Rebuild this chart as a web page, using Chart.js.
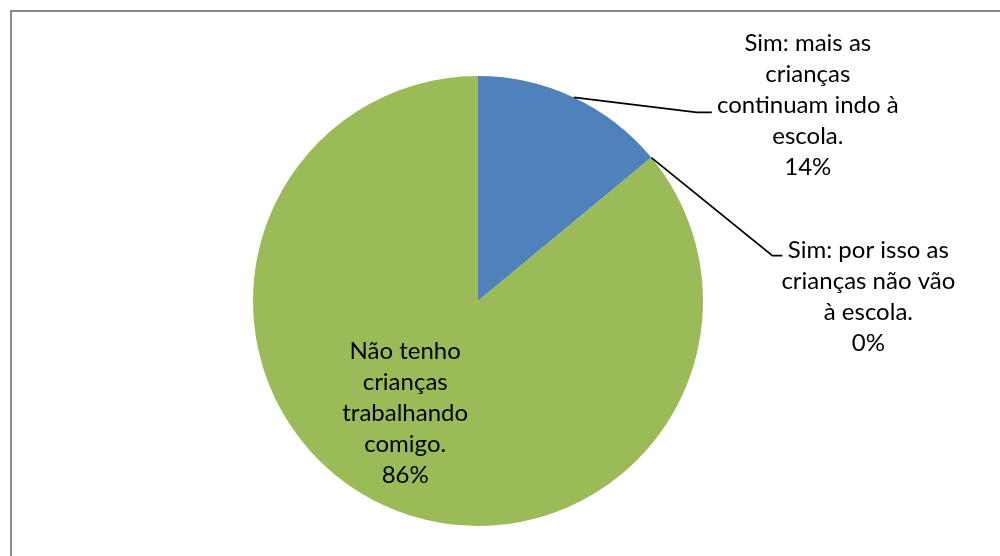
<!DOCTYPE html>
<html>
<head>
<meta charset="utf-8">
<script src="https://cdn.jsdelivr.net/npm/chart.js@4"></script>
<style>
	html, body { margin: 0; padding: 0; background: #fff; }
	#wrap { position: relative; width: 1000px; height: 556px; overflow: hidden; }
	#frame {
		position: absolute; left: 10px; top: 10px; width: 1100px; height: 700px;
		border-left: 2px solid #8a8a8a; border-top: 2px solid #8a8a8a;
	}
	#c { position: absolute; left: 0; top: 0; }
</style>
</head>
<body>
<div id="wrap">
	<div id="frame"></div>
	<canvas id="c" width="1000" height="556"></canvas>
</div>
<script>
const categories = [
	["Sim: mais as", "crianças", "continuam indo à", "escola."],
	["Sim: por isso as", "crianças não vão", "à escola."],
	["Não tenho", "crianças", "trabalhando", "comigo."]
];
const values = [14, 0, 86];
const colors = ["#4F81BD", "#C0504D", "#9BBB59"];

// where each label sits, relative to the point on the rim at the slice's middle
const labelLayout = [
	{ leader: true, elbow: [123, 15], end: [138, 15], text: [234, -54] },
	{ leader: true, elbow: [121, 98], end: [131, 98], text: [217, 93] },
	{ leader: false, text: [23, -153] }
];

const lineHeight = 31;

const labelPlugin = {
	id: "pieLabels",
	afterDatasetsDraw(chart) {
		const ctx = chart.ctx;
		const arcs = chart.getDatasetMeta(0).data;
		ctx.save();
		ctx.font = "24px Lato, 'Liberation Sans', sans-serif";
		ctx.fillStyle = "#000";
		ctx.textAlign = "center";
		ctx.textBaseline = "middle";
		arcs.forEach((arc, i) => {
			const p = arc.getProps(["x", "y", "startAngle", "endAngle", "outerRadius"], true);
			const mid = (p.startAngle + p.endAngle) / 2;
			const ax = p.x + Math.cos(mid) * p.outerRadius;
			const ay = p.y + Math.sin(mid) * p.outerRadius;
			const lay = labelLayout[i];

			if (lay.leader) {
				ctx.beginPath();
				ctx.strokeStyle = "#000";
				ctx.lineWidth = 1.8;
				ctx.moveTo(ax, ay);
				ctx.lineTo(ax + lay.elbow[0], ay + lay.elbow[1]);
				ctx.lineTo(ax + lay.end[0], ay + lay.end[1]);
				ctx.stroke();
			}

			const lines = categories[i].concat([values[i] + "%"]);
			lines.forEach((line, k) => {
				ctx.fillText(line, ax + lay.text[0], ay + lay.text[1] + k * lineHeight);
			});
		});
		ctx.restore();
	}
};

new Chart(document.getElementById("c"), {
	type: "pie",
	data: {
		labels: categories.map(c => c.join(" ")),
		datasets: [{
			data: values,
			backgroundColor: colors,
			borderWidth: 0
		}]
	},
	options: {
		responsive: false,
		animation: false,
		layout: {
			padding: { left: 253, right: 297, top: 76, bottom: 30 }
		},
		plugins: {
			legend: { display: false },
			tooltip: { enabled: false }
		}
	},
	plugins: [labelPlugin]
});
</script>
</body>
</html>
